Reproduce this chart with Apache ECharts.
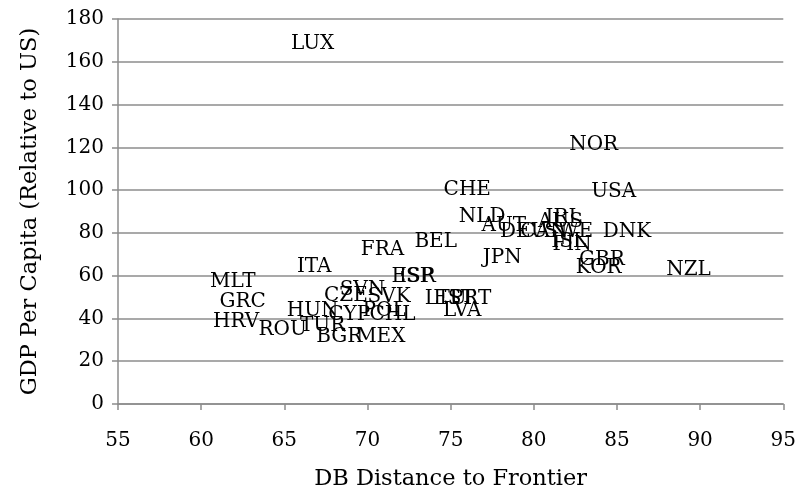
<!DOCTYPE html>
<html>
<head>
<meta charset="utf-8">
<script src="https://cdn.jsdelivr.net/npm/echarts@6/dist/echarts.min.js"></script>
<style>html,body{margin:0;padding:0;background:#fff;}#chart{width:799px;height:496px;}</style>
</head>
<body>
<div id="chart"></div>
<script>
const countries = ["LUX","NOR","USA","CHE","NLD","AUT","DEU","CAN","AUS","IRL","SWE","FIN","ISL","DNK","BEL","FRA","JPN","GBR","KOR","NZL","ITA","ESP","ISR","MLT","SVN","CZE","SVK","LTU","EST","PRT","LVA","GRC","HUN","CYP","POL","CHL","HRV","ROU","TUR","BGR","MEX"];
const dbScore = [66.7,83.6,84.8,76.0,76.9,78.2,79.4,80.6,81.6,81.8,82.1,82.3,82.1,85.6,74.1,70.9,78.1,84.1,83.9,89.3,66.8,72.7,73.0,61.9,69.7,68.7,71.3,74.7,75.2,76.2,75.7,62.5,66.7,68.9,71.0,71.5,62.1,64.9,67.3,68.3,70.8];
const gdpRel = [168.3,121.2,99.3,100.2,87.6,83.4,80.7,80.7,85.0,87.2,80.7,74.6,76.0,80.7,76.0,72.3,68.5,67.6,63.9,62.9,64.3,59.7,59.7,57.3,53.6,50.8,49.9,49.0,49.0,49.0,43.4,48.0,43.8,41.5,43.8,41.5,38.2,34.5,36.4,31.2,31.2];
const xTicks = {min:55, max:95, interval:5};
const yTicks = {min:0, max:180, interval:20};

const points = countries.map((c,i)=>({name:c, value:[dbScore[i], gdpRel[i]]}));
const font = "'DejaVu Serif', serif";
const chart = echarts.init(document.getElementById('chart'), null, {renderer:'canvas'});
chart.setOption({
  animation:false,
  backgroundColor:'#ffffff',
  grid:{left:118, right:14, top:19, bottom:91, containLabel:false},
  xAxis:{
    type:'value', min:xTicks.min, max:xTicks.max, interval:xTicks.interval,
    name:'DB Distance to Frontier', nameLocation:'middle', nameGap:64,
    nameTextStyle:{fontFamily:font, fontSize:22.5, color:'#000'},
    axisLine:{show:true, onZero:false, lineStyle:{color:'#8c8c8c', width:1.5}},
    axisTick:{show:true, length:6, lineStyle:{color:'#8c8c8c', width:1.5}},
    axisLabel:{fontFamily:font, fontSize:20, color:'#000', margin:27},
    splitLine:{show:false}
  },
  yAxis:{
    type:'value', min:yTicks.min, max:yTicks.max, interval:yTicks.interval,
    name:'GDP Per Capita (Relative to US)', nameLocation:'middle', nameGap:76, nameRotate:90,
    nameTextStyle:{fontFamily:font, fontSize:22.5, color:'#000'},
    axisLine:{show:true, onZero:false, lineStyle:{color:'#8c8c8c', width:1.5}},
    axisTick:{show:true, length:6, lineStyle:{color:'#8c8c8c', width:1.5}},
    axisLabel:{fontFamily:font, fontSize:20, color:'#000', margin:14},
    splitLine:{show:true, lineStyle:{color:'#8c8c8c', width:1.5}}
  },
  series:[{
    type:'scatter',
    data:points,
    symbol:'circle',
    symbolSize:1,
    itemStyle:{color:'rgba(0,0,0,0)'},
    label:{show:true, position:'inside', formatter:'{b}', fontFamily:font, fontSize:20, color:'#000', opacity:1},
    emphasis:{disabled:true}
  }]
});
</script>
</body>
</html>
